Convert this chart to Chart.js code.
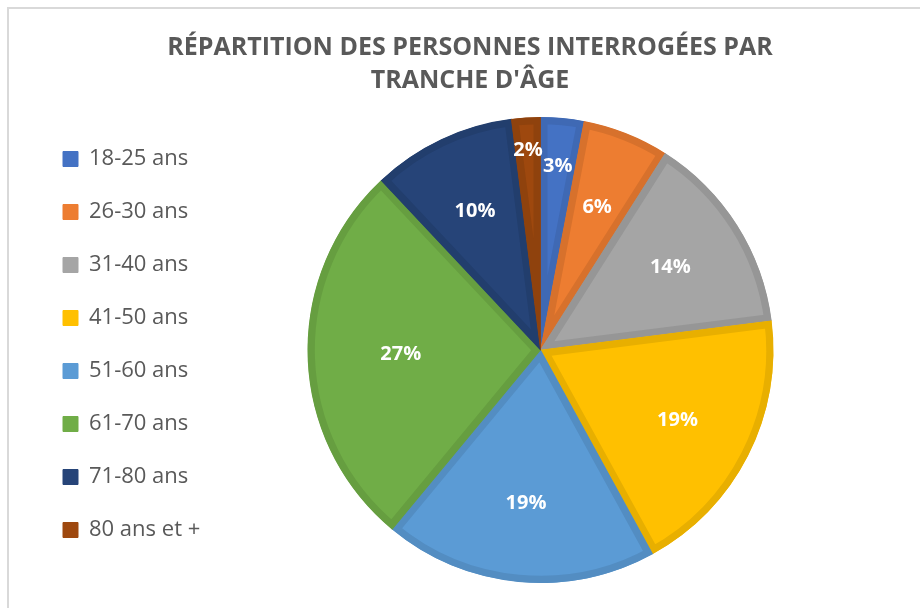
<!DOCTYPE html>
<html>
<head>
<meta charset="utf-8">
<script src="https://cdn.jsdelivr.net/npm/chart.js@4.4.0/dist/chart.umd.min.js"></script>
<style>
  body { margin: 0; background: #fff; }
  #frame { position: absolute; left: 7px; top: 7px; width: 930px; height: 620px;
           border-left: 2px solid #d9d9d9; border-top: 2px solid #d9d9d9; }
  #wrap { position: absolute; left: 0; top: 0; width: 920px; height: 608px; }
</style>
</head>
<body>
<div id="frame"></div>
<div id="wrap"><canvas id="myChart" width="920" height="608"></canvas></div>
<script>
// tranches d'age et pourcentages
var ageLabels = ['18-25 ans', '26-30 ans', '31-40 ans', '41-50 ans', '51-60 ans', '61-70 ans', '71-80 ans', '80 ans et +'];
var percentages = [3, 6, 14, 19, 19, 27, 10, 2];
var sliceColors = ['#4472C4', '#ED7D31', '#A5A5A5', '#FFC000', '#5B9BD5', '#70AD47', '#264478', '#9E480E'];
var edgeColors = ['#3F69B4', '#D7712C', '#969696', '#E8AF00', '#538DC2', '#669E40', '#223E6D', '#8F420D'];
var titleLines = ['RÉPARTITION DES PERSONNES INTERROGÉES PAR', "TRANCHE D'ÂGE"];

// petites etiquettes blanches dans les parts
const pctLabels = {
    id: 'pctLabels',
    afterDatasetsDraw(chart) {
        const ctx = chart.ctx;
        const meta = chart.getDatasetMeta(0);
        ctx.save();
        ctx.fillStyle = '#ffffff';
        ctx.font = 'bold 20px "Open Sans", sans-serif';
        ctx.textAlign = 'center';
        ctx.textBaseline = 'middle';
        meta.data.forEach(function(arc, i) {
            const p = arc.getProps(['x', 'y', 'startAngle', 'endAngle', 'outerRadius'], true);
            const mid = (p.startAngle + p.endAngle) / 2;
            const v = percentages[i];
            // grosses parts : etiquette plus au centre, petites parts : plus au bord
            const f = v > 20 ? 0.6 : Math.max(0.66, 1.0 - 0.07 * v);
            const r = p.outerRadius * f;
            ctx.fillText(v + '%', p.x + Math.cos(mid) * r, p.y + Math.sin(mid) * r);
        });
        ctx.restore();
    }
};

const ctx = document.getElementById('myChart');
const myChart = new Chart(ctx, {
    type: 'pie',
    data: {
        labels: ageLabels,
        datasets: [{
            data: percentages,
            backgroundColor: sliceColors,
            borderColor: edgeColors,
            borderWidth: 7,
            borderAlign: 'inner'
        }]
    },
    options: {
        responsive: false,
        animation: false,
        layout: { padding: { left: 32, right: 12, top: 0, bottom: 25 } },
        plugins: {
            tooltip: { enabled: false },
            title: {
                display: true,
                text: titleLines,
                color: '#595959',
                font: { family: '"Open Sans", sans-serif', size: 25, weight: 'bold', lineHeight: 1.32 },
                padding: { top: 31, bottom: 20 }
            },
            // empty box on the right, only to push the pie left of the legend like in Excel
            subtitle: {
                display: true,
                position: 'right',
                fullSize: false,
                text: ' ',
                color: 'rgba(0,0,0,0)',
                font: { size: 1, lineHeight: 1 },
                padding: { top: 40, bottom: 0 }
            },
            legend: {
                position: 'left',
                align: 'start',
                fullSize: false,
                labels: {
                    color: '#595959',
                    font: { family: '"Open Sans", sans-serif', size: 22 },
                    boxWidth: 15,
                    boxHeight: 15,
                    padding: 31,
                    generateLabels(chart) {
                        const items = Chart.overrides.pie.plugins.legend.labels.generateLabels(chart);
                        items.forEach(function(it) {
                            it.lineWidth = 1;
                            it.strokeStyle = it.fillStyle;
                        });
                        return items;
                    }
                }
            }
        }
    },
    plugins: [pctLabels]
});

// la legende fait sa largeur reelle ; on ajuste l'espace de droite pour garder le centre du camembert
myChart.options.plugins.subtitle.padding = { top: Math.max(0, myChart.legend.width - 142), bottom: 0 };
myChart.update();
</script>
</body>
</html>
